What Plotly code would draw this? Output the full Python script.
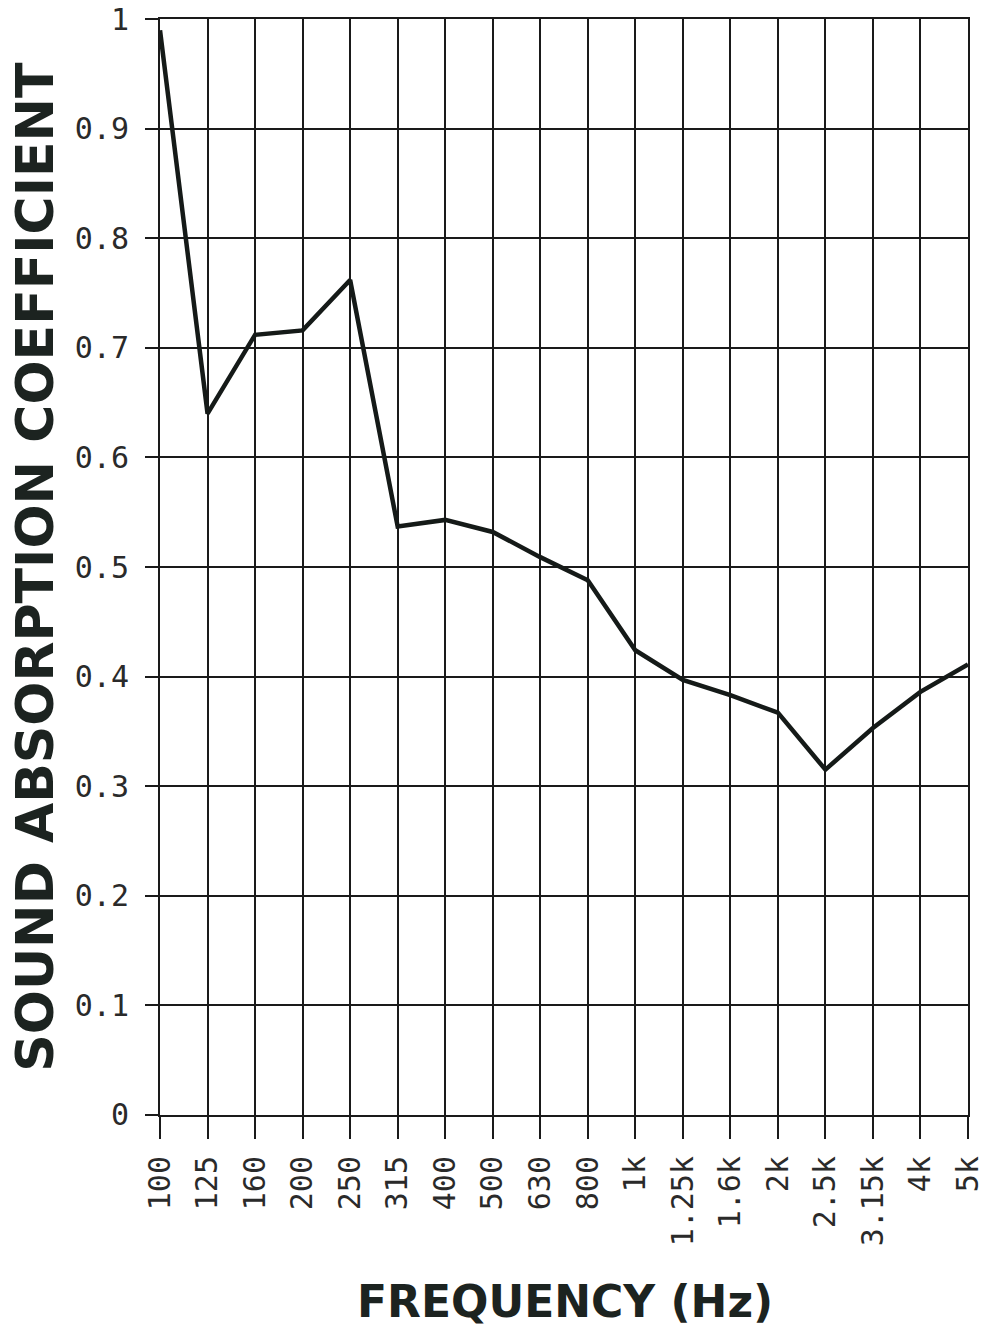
import plotly.graph_objects as go

freq_labels = ["100", "125", "160", "200", "250", "315", "400", "500", "630", "800",
               "1k", "1.25k", "1.6k", "2k", "2.5k", "3.15k", "4k", "5k"]
absorption = [0.99, 0.64, 0.712, 0.716, 0.762, 0.537, 0.543, 0.532, 0.509, 0.488,
              0.424, 0.397, 0.383, 0.367, 0.315, 0.353, 0.386, 0.411]
y_ticks = [0, 0.1, 0.2, 0.3, 0.4, 0.5, 0.6, 0.7, 0.8, 0.9, 1]
y_tick_text = ["0", "0.1", "0.2", "0.3", "0.4", "0.5", "0.6", "0.7", "0.8", "0.9", "1"]

x_idx = list(range(len(freq_labels)))

fig = go.Figure()
fig.add_trace(go.Scatter(
    x=x_idx, y=absorption, mode="lines",
    line=dict(color="#151a18", width=4.5),
    showlegend=False, hoverinfo="skip",
))

tick_font = dict(family="DejaVu Sans Mono", size=30, color="#2a2a2a")

fig.update_layout(
    width=984, height=1331,
    margin=dict(l=160, r=16, t=19, b=216, autoexpand=False),
    paper_bgcolor="white", plot_bgcolor="white",
    xaxis=dict(
        range=[-0.0005, len(freq_labels) - 1 + 0.0005],
        tickmode="array", tickvals=x_idx, ticktext=freq_labels,
        tickangle=-90, tickfont=tick_font, automargin=False,
        ticklabeloverflow="allow", ticklabelstandoff=5,
        ticks="outside", ticklen=22, tickwidth=2, tickcolor="#1a1a1a",
        showgrid=True, gridcolor="#1a1a1a", gridwidth=2,
        showline=True, linecolor="#1a1a1a", linewidth=2, mirror=True,
        zeroline=False, fixedrange=True,
    ),
    yaxis=dict(
        range=[-0.0003, 1.0003],
        tickmode="array", tickvals=y_ticks, ticktext=y_tick_text,
        tickfont=tick_font, automargin=False,
        ticklabeloverflow="allow", ticklabelstandoff=10,
        ticks="outside", ticklen=13, tickwidth=2, tickcolor="#1a1a1a",
        showgrid=True, gridcolor="#1a1a1a", gridwidth=2,
        showline=True, linecolor="#1a1a1a", linewidth=2, mirror=True,
        zeroline=False, fixedrange=True,
    ),
    annotations=[
        dict(text="SOUND ABSORPTION COEFFICIENT", xref="paper", yref="paper",
             x=-0.155, y=0.5, xanchor="center", yanchor="middle", textangle=-90,
             showarrow=False,
             font=dict(family="DejaVu Sans", size=52, color="#1c2320", weight="bold")),
        dict(text="FREQUENCY (Hz)", xref="paper", yref="paper",
             x=0.501, y=-0.17, xanchor="center", yanchor="middle",
             showarrow=False,
             font=dict(family="DejaVu Sans", size=44, color="#1c2320", weight="bold")),
    ],
)

fig.write_html("out.html", config={"displayModeBar": False},
               post_script="document.body.style.margin='0px';")
